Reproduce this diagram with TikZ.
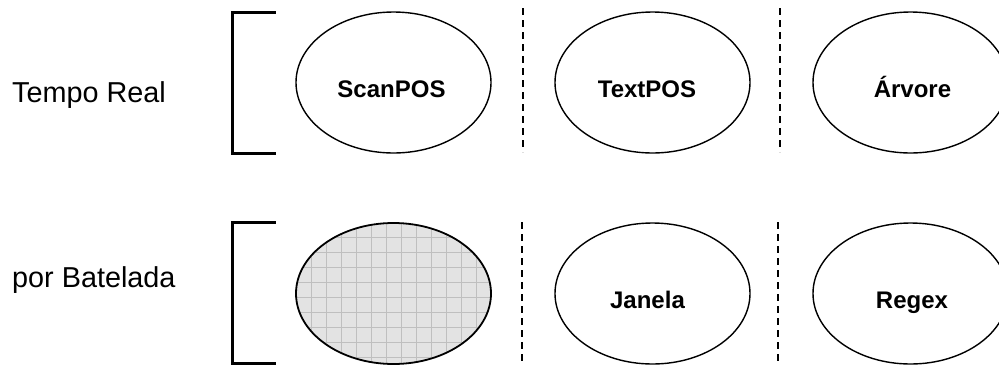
\documentclass[tikz,border=0pt]{standalone}
\usepackage{fontspec}
\setmainfont{Liberation Sans}
\usetikzlibrary{shapes.geometric}
\begin{document}
\begin{tikzpicture}[x=1pt,y=-1pt,
  oval/.style={ellipse,draw=black,line width=1.4pt,minimum width=195pt,minimum height=141pt,inner sep=0pt},
  toollbl/.style={font=\fontsize{24}{26}\selectfont\bfseries,anchor=base,inner sep=0pt},
  rowlbl/.style={font=\fontsize{28.8}{32}\selectfont,anchor=base west,inner sep=0pt},
  bracket/.style={line width=3pt,line cap=rect},
  divider/.style={line width=1.6pt,dash pattern=on 7pt off 5pt},
  gridline/.style={draw=gray!50,line width=0.5pt}]
\useasboundingbox (0,0) rectangle (999,365);

% row captions
\node[rowlbl] (rt) at (12,102) {Tempo Real};
\node[rowlbl] (rb) at (12,287) {por Batelada};

% brackets
\draw[bracket] (274,12) -- (232,12) -- (232,153) -- (274,153);
\draw[bracket] (274,222) -- (232,222) -- (232,363) -- (274,363);

% dividers between columns
\draw[divider] (523,8) -- (523,152);
\draw[divider] (780,8) -- (780,152);
\draw[divider] (522,222) -- (522,365);
\draw[divider] (778,222) -- (778,365);

% top row
\node[oval] (scan) at (393.5,82.5) {};
\node[oval] (text) at (652.5,82.5) {};
\node[oval] (arv) at (910.5,82.5) {};
\node[toollbl] (scanT) at (391.5,97) {ScanPOS};
\node[toollbl] (textT) at (647,97) {TextPOS};
\node[toollbl] (arvT) at (912.5,97) {Árvore};

% bottom row: the empty slot is a grey ellipse with a fine grid
\node[oval,draw=none,fill=gray!22] (empty) at (393.5,293.5) {};
\begin{scope}
  \clip (empty.center) ellipse [x radius=97.5, y radius=70.5];
  \foreach \gx in {311,326,...,491} \draw[gridline] (\gx,222) -- (\gx,365);
  \foreach \gy in {237,252,...,365} \draw[gridline] (296,\gy) -- (491,\gy);
\end{scope}
\draw[line width=1.8pt] (empty.center) ellipse [x radius=97.5, y radius=70.5];
\node[oval] (jan) at (652.5,293.5) {};
\node[oval] (reg) at (910.5,293.5) {};
\node[toollbl] (janT) at (647.5,308) {Janela};
\node[toollbl] (regT) at (912,308) {Regex};
\end{tikzpicture}
\end{document}
